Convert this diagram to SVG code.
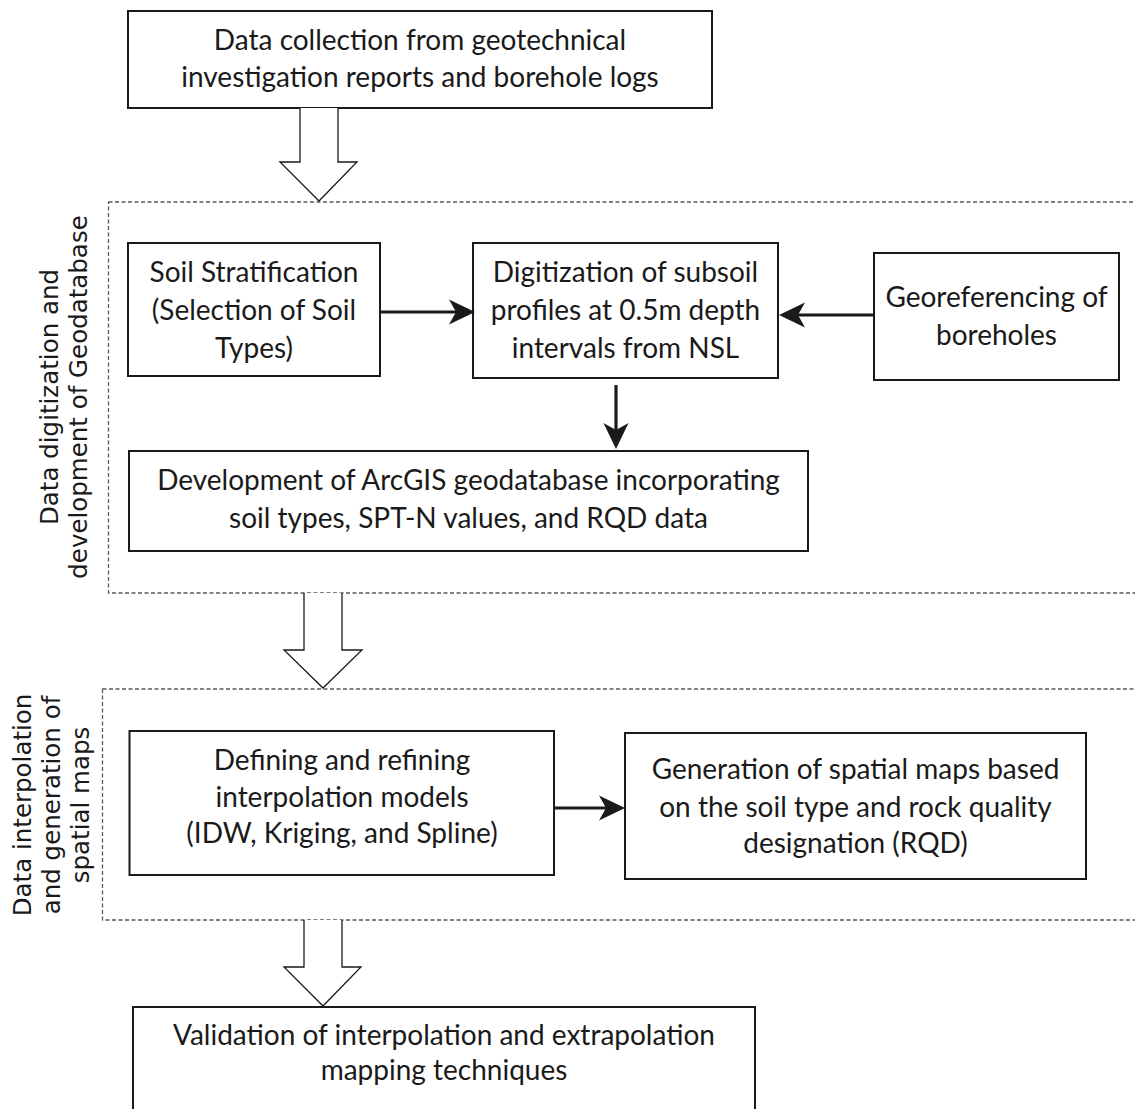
<svg xmlns="http://www.w3.org/2000/svg" width="1135" height="1109" viewBox="0 0 1135 1109">
<defs>
<style>
.box{fill:#fff;stroke:#1a1a1a;stroke-width:2}
.grp{fill:none;stroke:#5a5a5a;stroke-width:1.3;stroke-dasharray:4 2.5}
.t{font-family:Lato,"Open Sans","Liberation Sans",sans-serif;font-size:28px;fill:#1a1a1a;text-anchor:middle}
.side{font-family:"DejaVu Sans",Verdana,sans-serif;font-size:24.5px;fill:#1a1a1a;text-anchor:middle}
.hollow{fill:#fff;stroke:#1a1a1a;stroke-width:1.3;stroke-linejoin:miter}
.con{fill:none;stroke:#1a1a1a;stroke-width:3.2}
</style>
<marker id="ah" markerUnits="userSpaceOnUse" orient="auto" refX="0" refY="0" markerWidth="40" markerHeight="40" overflow="visible">
<path d="M16,0 L-10,-12.5 L-3,0 L-10,12.5 Z" fill="#1a1a1a"/>
</marker>
</defs>

<g id="group-digitization">
<rect class="grp" x="108.5" y="202" width="1040" height="391"/>
<text class="side" transform="translate(58,397) rotate(-90)">Data digitization and</text>
<text class="side" transform="translate(87,397) rotate(-90)">development of Geodatabase</text>
</g>

<g id="group-interpolation">
<rect class="grp" x="102.5" y="689" width="1045" height="231"/>
<text class="side" transform="translate(31,805) rotate(-90)">Data interpolation</text>
<text class="side" transform="translate(60,805) rotate(-90)">and generation of</text>
<text class="side" transform="translate(89,805) rotate(-90)">spatial maps</text>
</g>

<g id="n-collection">
<rect class="box" x="128" y="11" width="584" height="97"/>
<text class="t" x="420" y="50">Data collection from geotechnical</text>
<text class="t" x="420" y="87">investigation reports and borehole logs</text>
</g>

<g id="n-soil">
<rect class="box" x="128" y="243" width="252" height="133"/>
<text class="t" x="254" y="282">Soil Stratification</text>
<text class="t" x="254" y="320">(Selection of Soil</text>
<text class="t" x="254" y="358">Types)</text>
</g>

<g id="n-digitization">
<rect class="box" x="473" y="243" width="305" height="135"/>
<text class="t" x="625.5" y="282">Digitization of subsoil</text>
<text class="t" x="625.5" y="320">profiles at 0.5m depth</text>
<text class="t" x="625.5" y="358">intervals from NSL</text>
</g>

<g id="n-georef">
<rect class="box" x="874" y="253" width="245" height="127"/>
<text class="t" x="996.5" y="307">Georeferencing of</text>
<text class="t" x="996.5" y="345">boreholes</text>
</g>

<g id="n-geodatabase">
<rect class="box" x="129" y="451" width="679" height="100"/>
<text class="t" x="468.5" y="490">Development of ArcGIS geodatabase incorporating</text>
<text class="t" x="468.5" y="528">soil types, SPT-N values, and RQD data</text>
</g>

<g id="n-models">
<rect class="box" x="129.5" y="731" width="424.5" height="144"/>
<text class="t" x="342" y="770">Defining and refining</text>
<text class="t" x="342" y="807">interpolation models</text>
<text class="t" x="342" y="843">(IDW, Kriging, and Spline)</text>
</g>

<g id="n-maps">
<rect class="box" x="625" y="733" width="461" height="146"/>
<text class="t" x="855.5" y="779">Generation of spatial maps based</text>
<text class="t" x="855.5" y="817">on the soil type and rock quality</text>
<text class="t" x="855.5" y="853">designation (RQD)</text>
</g>

<g id="n-validation">
<rect class="box" x="133" y="1007" width="622" height="110"/>
<text class="t" x="444" y="1045">Validation of interpolation and extrapolation</text>
<text class="t" x="444" y="1080">mapping techniques</text>
</g>

<g id="connectors">
<path class="hollow" d="M300,108 V162 H280 L319,201 L357,162 H338 V108"/>
<path class="hollow" d="M304,593 V650 H284 L323,688 L362,650 H342 V593"/>
<path class="hollow" d="M304,920 V967 H284 L323,1006 L361,967 H342 V920"/>
<line class="con" x1="381" y1="312" x2="459" y2="312" marker-end="url(#ah)"/>
<line class="con" x1="873" y1="315" x2="795" y2="315" marker-end="url(#ah)"/>
<line class="con" x1="616" y1="385" x2="616" y2="433" marker-end="url(#ah)"/>
<line class="con" x1="555" y1="808" x2="609" y2="808" marker-end="url(#ah)"/>
</g>
</svg>
